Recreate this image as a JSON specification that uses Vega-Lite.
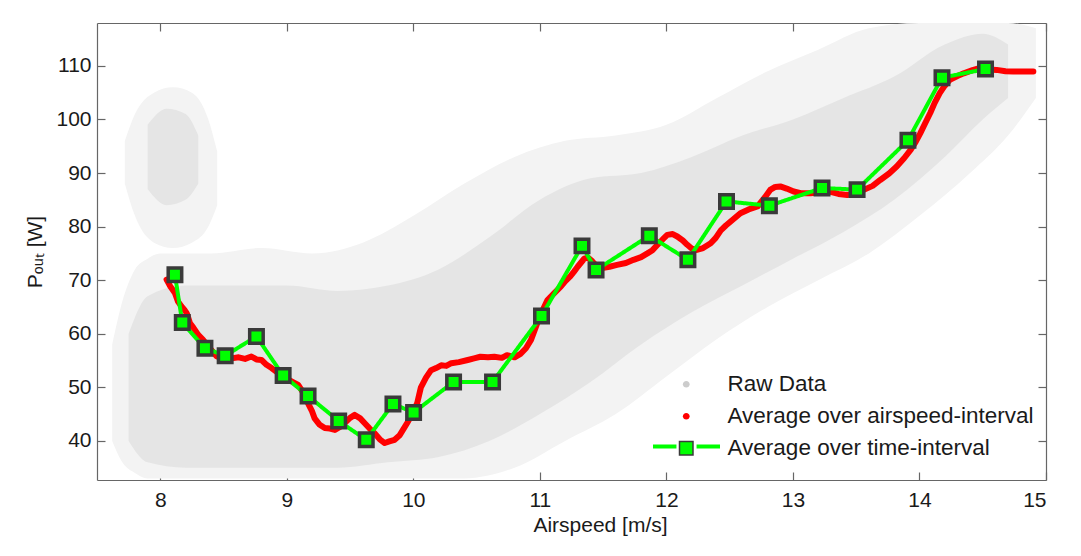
{
  "$schema": "https://vega.github.io/schema/vega-lite/v6.json",
  "width": 949,
  "height": 457,
  "autosize": {"type": "none"},
  "padding": {"left": 97, "top": 23, "right": 35, "bottom": 76},
  "background": "white",
  "config": {
    "view": {"stroke": null},
    "font": "Liberation Sans",
    "axis": {
      "grid": false,
      "domainColor": "#666666",
      "tickColor": "#666666",
      "domainWidth": 1.2,
      "tickWidth": 1.2,
      "labelColor": "#1a1a1a",
      "titleColor": "#1a1a1a",
      "labelFont": "Liberation Sans",
      "titleFont": "Liberation Sans",
      "labelFontSize": 21,
      "titleFontSize": 21,
      "titleFontWeight": "normal"
    }
  },
  "datasets": {
    "outer": [
      {"part": "main", "x": 7.62, "lo": 40, "hi": 58},
      {"part": "main", "x": 7.7, "lo": 36, "hi": 66},
      {"part": "main", "x": 7.8, "lo": 34, "hi": 72},
      {"part": "main", "x": 7.9, "lo": 33, "hi": 74},
      {"part": "main", "x": 8.0, "lo": 33, "hi": 75},
      {"part": "main", "x": 8.4, "lo": 33, "hi": 75},
      {"part": "main", "x": 8.8, "lo": 33, "hi": 76},
      {"part": "main", "x": 9.2, "lo": 33, "hi": 75},
      {"part": "main", "x": 9.6, "lo": 33, "hi": 77},
      {"part": "main", "x": 10.0, "lo": 33, "hi": 82},
      {"part": "main", "x": 10.4, "lo": 33, "hi": 88},
      {"part": "main", "x": 10.8, "lo": 35, "hi": 93},
      {"part": "main", "x": 11.2, "lo": 40, "hi": 96},
      {"part": "main", "x": 11.6, "lo": 45, "hi": 97},
      {"part": "main", "x": 12.0, "lo": 52, "hi": 99},
      {"part": "main", "x": 12.4, "lo": 59, "hi": 104},
      {"part": "main", "x": 12.8, "lo": 65, "hi": 109},
      {"part": "main", "x": 13.2, "lo": 70, "hi": 113},
      {"part": "main", "x": 13.6, "lo": 75, "hi": 117},
      {"part": "main", "x": 14.0, "lo": 82, "hi": 118},
      {"part": "main", "x": 14.4, "lo": 90, "hi": 118},
      {"part": "main", "x": 14.7, "lo": 97, "hi": 118},
      {"part": "main", "x": 14.92, "lo": 104, "hi": 117},
      {"part": "blob", "x": 7.72, "lo": 88, "hi": 96},
      {"part": "blob", "x": 7.8, "lo": 82, "hi": 101},
      {"part": "blob", "x": 7.95, "lo": 77, "hi": 105},
      {"part": "blob", "x": 8.1, "lo": 76, "hi": 106},
      {"part": "blob", "x": 8.25, "lo": 77, "hi": 105},
      {"part": "blob", "x": 8.38, "lo": 80, "hi": 100},
      {"part": "blob", "x": 8.45, "lo": 84, "hi": 94}
    ],
    "inner": [
      {"part": "main", "x": 7.75, "lo": 40, "hi": 60},
      {"part": "main", "x": 7.9, "lo": 36, "hi": 67},
      {"part": "main", "x": 8.2, "lo": 35, "hi": 69},
      {"part": "main", "x": 8.6, "lo": 35, "hi": 69},
      {"part": "main", "x": 9.0, "lo": 35, "hi": 69},
      {"part": "main", "x": 9.4, "lo": 35, "hi": 68},
      {"part": "main", "x": 9.8, "lo": 36, "hi": 69},
      {"part": "main", "x": 10.2, "lo": 37, "hi": 72},
      {"part": "main", "x": 10.6, "lo": 40, "hi": 78},
      {"part": "main", "x": 11.0, "lo": 45, "hi": 85},
      {"part": "main", "x": 11.4, "lo": 51, "hi": 89},
      {"part": "main", "x": 11.8, "lo": 58, "hi": 90},
      {"part": "main", "x": 12.2, "lo": 64, "hi": 93},
      {"part": "main", "x": 12.6, "lo": 69, "hi": 97},
      {"part": "main", "x": 13.0, "lo": 74, "hi": 100},
      {"part": "main", "x": 13.4, "lo": 79, "hi": 104},
      {"part": "main", "x": 13.8, "lo": 85, "hi": 108},
      {"part": "main", "x": 14.2, "lo": 93, "hi": 114},
      {"part": "main", "x": 14.5, "lo": 100, "hi": 116},
      {"part": "main", "x": 14.7, "lo": 104, "hi": 114},
      {"part": "blob", "x": 7.9, "lo": 87, "hi": 99},
      {"part": "blob", "x": 8.05, "lo": 84, "hi": 102},
      {"part": "blob", "x": 8.2, "lo": 85, "hi": 101},
      {"part": "blob", "x": 8.3, "lo": 88, "hi": 97}
    ],
    "airspeed": [
      {"x": 8.05, "p": 70.1}, {"x": 8.08, "p": 68.8}, {"x": 8.116, "p": 67.6}, {"x": 8.14, "p": 66.0},
      {"x": 8.168, "p": 65.1}, {"x": 8.19, "p": 64.5}, {"x": 8.21, "p": 63.8}, {"x": 8.234, "p": 62.0},
      {"x": 8.26, "p": 61.2}, {"x": 8.3, "p": 59.8}, {"x": 8.34, "p": 58.8}, {"x": 8.38, "p": 57.6},
      {"x": 8.41, "p": 56.8}, {"x": 8.444, "p": 55.8}, {"x": 8.5, "p": 55.3}, {"x": 8.563, "p": 55.4},
      {"x": 8.62, "p": 55.6}, {"x": 8.67, "p": 55.3}, {"x": 8.72, "p": 55.75}, {"x": 8.76, "p": 55.2},
      {"x": 8.8, "p": 55.1}, {"x": 8.84, "p": 54.2}, {"x": 8.88, "p": 53.6}, {"x": 8.93, "p": 52.7},
      {"x": 8.98, "p": 52.0}, {"x": 9.03, "p": 51.2}, {"x": 9.09, "p": 50.45}, {"x": 9.13, "p": 49.0},
      {"x": 9.168, "p": 47.0}, {"x": 9.2, "p": 45.5}, {"x": 9.22, "p": 44.2}, {"x": 9.26, "p": 43.0},
      {"x": 9.3, "p": 42.4}, {"x": 9.34, "p": 42.3}, {"x": 9.38, "p": 42.05}, {"x": 9.42, "p": 42.6},
      {"x": 9.455, "p": 43.3}, {"x": 9.5, "p": 44.3}, {"x": 9.537, "p": 44.85}, {"x": 9.58, "p": 44.2},
      {"x": 9.616, "p": 43.3}, {"x": 9.655, "p": 42.3}, {"x": 9.695, "p": 41.4}, {"x": 9.735, "p": 40.3},
      {"x": 9.774, "p": 39.6}, {"x": 9.81, "p": 39.9}, {"x": 9.852, "p": 40.2}, {"x": 9.89, "p": 41.0},
      {"x": 9.918, "p": 42.05}, {"x": 9.95, "p": 43.3}, {"x": 9.98, "p": 44.55}, {"x": 10.03, "p": 47.0},
      {"x": 10.06, "p": 50.0}, {"x": 10.1, "p": 51.8}, {"x": 10.14, "p": 53.2}, {"x": 10.18, "p": 53.6},
      {"x": 10.22, "p": 54.1}, {"x": 10.26, "p": 54.0}, {"x": 10.3, "p": 54.5}, {"x": 10.36, "p": 54.7},
      {"x": 10.43, "p": 55.1}, {"x": 10.48, "p": 55.4}, {"x": 10.53, "p": 55.7}, {"x": 10.59, "p": 55.6},
      {"x": 10.64, "p": 55.7}, {"x": 10.7, "p": 55.5}, {"x": 10.74, "p": 56.0}, {"x": 10.8, "p": 55.6},
      {"x": 10.85, "p": 56.3}, {"x": 10.89, "p": 57.3}, {"x": 10.93, "p": 58.85}, {"x": 10.98, "p": 62.0},
      {"x": 11.02, "p": 64.3}, {"x": 11.06, "p": 66.3}, {"x": 11.11, "p": 67.5}, {"x": 11.165, "p": 68.8},
      {"x": 11.2, "p": 69.8}, {"x": 11.24, "p": 70.7}, {"x": 11.27, "p": 71.6}, {"x": 11.3, "p": 72.55},
      {"x": 11.35, "p": 74.0}, {"x": 11.38, "p": 74.2}, {"x": 11.415, "p": 73.5}, {"x": 11.45, "p": 72.6},
      {"x": 11.48, "p": 72.2}, {"x": 11.55, "p": 72.5}, {"x": 11.61, "p": 72.85}, {"x": 11.68, "p": 73.2},
      {"x": 11.74, "p": 73.8}, {"x": 11.8, "p": 74.3}, {"x": 11.85, "p": 75.0}, {"x": 11.89, "p": 75.6},
      {"x": 11.93, "p": 76.6}, {"x": 11.97, "p": 77.6}, {"x": 12.007, "p": 78.45}, {"x": 12.05, "p": 78.6},
      {"x": 12.086, "p": 78.15}, {"x": 12.13, "p": 77.4}, {"x": 12.165, "p": 76.6}, {"x": 12.2, "p": 75.9},
      {"x": 12.24, "p": 75.65}, {"x": 12.29, "p": 76.0}, {"x": 12.35, "p": 76.9}, {"x": 12.39, "p": 77.9},
      {"x": 12.43, "p": 79.3}, {"x": 12.47, "p": 80.2}, {"x": 12.51, "p": 81.0}, {"x": 12.585, "p": 82.5},
      {"x": 12.65, "p": 83.2}, {"x": 12.72, "p": 83.75}, {"x": 12.77, "p": 85.2}, {"x": 12.82, "p": 86.85},
      {"x": 12.86, "p": 87.4}, {"x": 12.9, "p": 87.5}, {"x": 12.95, "p": 87.1}, {"x": 13.006, "p": 86.55},
      {"x": 13.07, "p": 86.2}, {"x": 13.14, "p": 86.2}, {"x": 13.21, "p": 86.4}, {"x": 13.29, "p": 86.55},
      {"x": 13.36, "p": 86.1}, {"x": 13.43, "p": 85.9}, {"x": 13.5, "p": 86.2}, {"x": 13.56, "p": 86.85},
      {"x": 13.63, "p": 87.6}, {"x": 13.69, "p": 88.7}, {"x": 13.76, "p": 89.9}, {"x": 13.82, "p": 91.2},
      {"x": 13.88, "p": 92.8}, {"x": 13.93, "p": 94.3}, {"x": 13.97, "p": 95.8}, {"x": 14.006, "p": 97.4},
      {"x": 14.045, "p": 99.3}, {"x": 14.085, "p": 101.2}, {"x": 14.12, "p": 103.1}, {"x": 14.16, "p": 104.9},
      {"x": 14.2, "p": 106.3}, {"x": 14.24, "p": 107.4}, {"x": 14.3, "p": 108.1}, {"x": 14.35, "p": 108.6},
      {"x": 14.42, "p": 109.2}, {"x": 14.48, "p": 109.6}, {"x": 14.55, "p": 109.3}, {"x": 14.61, "p": 109.25},
      {"x": 14.68, "p": 109.0}, {"x": 14.74, "p": 108.95}, {"x": 14.82, "p": 108.95}, {"x": 14.9, "p": 108.95}
    ],
    "time": [
      {"x": 8.116, "p": 71.0, "series": "Average over time-interval"},
      {"x": 8.174, "p": 62.1, "series": "Average over time-interval"},
      {"x": 8.353, "p": 57.3, "series": "Average over time-interval"},
      {"x": 8.513, "p": 55.9, "series": "Average over time-interval"},
      {"x": 8.76, "p": 59.5, "series": "Average over time-interval"},
      {"x": 8.971, "p": 52.2, "series": "Average over time-interval"},
      {"x": 9.168, "p": 48.4, "series": "Average over time-interval"},
      {"x": 9.41, "p": 43.7, "series": "Average over time-interval"},
      {"x": 9.628, "p": 40.2, "series": "Average over time-interval"},
      {"x": 9.839, "p": 46.9, "series": "Average over time-interval"},
      {"x": 10.002, "p": 45.3, "series": "Average over time-interval"},
      {"x": 10.318, "p": 51.0, "series": "Average over time-interval"},
      {"x": 10.626, "p": 51.0, "series": "Average over time-interval"},
      {"x": 11.013, "p": 63.3, "series": "Average over time-interval"},
      {"x": 11.333, "p": 76.4, "series": "Average over time-interval"},
      {"x": 11.444, "p": 71.9, "series": "Average over time-interval"},
      {"x": 11.865, "p": 78.3, "series": "Average over time-interval"},
      {"x": 12.17, "p": 73.8, "series": "Average over time-interval"},
      {"x": 12.475, "p": 84.7, "series": "Average over time-interval"},
      {"x": 12.814, "p": 83.9, "series": "Average over time-interval"},
      {"x": 13.23, "p": 87.2, "series": "Average over time-interval"},
      {"x": 13.507, "p": 86.9, "series": "Average over time-interval"},
      {"x": 13.909, "p": 96.1, "series": "Average over time-interval"},
      {"x": 14.178, "p": 107.8, "series": "Average over time-interval"},
      {"x": 14.522, "p": 109.4, "series": "Average over time-interval"}
    ]
  },
  "layer": [
    {
      "data": {"name": "outer"},
      "mark": {"type": "area", "color": "#f3f3f3", "interpolate": "monotone"},
      "encoding": {
        "x": {"field": "x", "type": "quantitative",
              "scale": {"domain": [7.5, 15], "nice": false, "zero": false},
              "axis": {"orient": "bottom", "values": [8, 9, 10, 11, 12, 13, 14, 15], "title": "Airspeed [m/s]",
                       "tickSize": -8, "labelPadding": 17, "titlePadding": 4, "titleX": 503}},
        "y": {"field": "lo", "type": "quantitative",
              "scale": {"domain": [32.7, 118], "nice": false, "zero": false},
              "axis": {"orient": "left", "values": [40, 50, 60, 70, 80, 90, 100, 110], "title": "Pₒᵤₜ [W]",
                       "tickSize": -8, "labelPadding": 14, "titlePadding": 10}},
        "y2": {"field": "hi"},
        "detail": {"field": "part"}
      }
    },
    {
      "data": {"name": "inner"},
      "mark": {"type": "area", "color": "#e5e5e5", "interpolate": "monotone"},
      "encoding": {
        "x": {"field": "x", "type": "quantitative", "axis": null},
        "y": {"field": "lo", "type": "quantitative", "axis": null},
        "y2": {"field": "hi"},
        "detail": {"field": "part"}
      }
    },
    {
      "data": {"name": "airspeed"},
      "mark": {"type": "line", "color": "#ff0000", "strokeWidth": 6, "strokeJoin": "round", "strokeCap": "round"},
      "encoding": {
        "x": {"field": "x", "type": "quantitative",
              "axis": {"orient": "top", "values": [8, 9, 10, 11, 12, 13, 14, 15], "labels": false, "title": null, "tickSize": -8}},
        "y": {"field": "p", "type": "quantitative",
              "axis": {"orient": "right", "values": [40, 50, 60, 70, 80, 90, 100, 110], "labels": false, "title": null, "tickSize": -8}}
      }
    },
    {
      "data": {"name": "time"},
      "mark": {"type": "line", "color": "#00ff00", "strokeWidth": 4},
      "encoding": {
        "x": {"field": "x", "type": "quantitative", "axis": null},
        "y": {"field": "p", "type": "quantitative", "axis": null},
        "strokeDash": {"field": "series", "type": "nominal",
                       "scale": {"domain": ["Average over time-interval"], "range": [[1, 0]]},
                       "legend": {"orient": "none", "legendX": 554, "legendY": 388, "title": null, "padding": 0,
                                  "symbolType": "M-1,0H-0.3M0.3,0H1", "symbolSize": 4489,
                                  "symbolStrokeColor": "#00ff00", "symbolFillColor": "transparent",
                                  "symbolStrokeWidth": 4, "labelOpacity": 0, "labelFontSize": 21,
                                  "labelExpr": "''"}}
      }
    },
    {
      "data": {"name": "time"},
      "mark": {"type": "point", "filled": true, "size": 182, "strokeWidth": 3.5, "opacity": 1},
      "encoding": {
        "x": {"field": "x", "type": "quantitative", "axis": null},
        "y": {"field": "p", "type": "quantitative", "axis": null},
        "color": {"field": "series", "type": "nominal",
                  "scale": {"domain": ["Raw Data", "Average over airspeed-interval", "Average over time-interval"],
                            "range": ["#cccccc", "#ff0000", "#00ff00"]},
                  "legend": {"orient": "none", "legendX": 578, "legendY": 350, "title": null, "padding": 0,
                             "labelFontSize": 22.5, "labelFont": "Liberation Sans", "labelColor": "#1a1a1a",
                             "labelLimit": 400, "rowPadding": 9, "labelOffset": 30, "symbolSize": 182}},
        "shape": {"field": "series", "type": "nominal",
                  "scale": {"domain": ["Raw Data", "Average over airspeed-interval", "Average over time-interval"],
                            "range": ["M0.5,0A0.5,0.5,0,1,1,-0.5,0A0.5,0.5,0,1,1,0.5,0Z", "M0.5,0A0.5,0.5,0,1,1,-0.5,0A0.5,0.5,0,1,1,0.5,0Z", "square"]},
                  "legend": {"orient": "none", "legendX": 578, "legendY": 350, "title": null, "padding": 0,
                             "labelFontSize": 22.5, "labelFont": "Liberation Sans", "labelColor": "#1a1a1a",
                             "labelLimit": 400, "rowPadding": 9, "labelOffset": 30, "symbolSize": 182}},
        "stroke": {"field": "series", "type": "nominal",
                   "scale": {"domain": ["Raw Data", "Average over airspeed-interval", "Average over time-interval"],
                             "range": ["transparent", "transparent", "#3a3a3a"]},
                   "legend": {"orient": "none", "legendX": 578, "legendY": 350, "title": null, "padding": 0,
                              "labelFontSize": 22.5, "labelFont": "Liberation Sans", "labelColor": "#1a1a1a",
                              "labelLimit": 400, "rowPadding": 9, "labelOffset": 30, "symbolSize": 182}}
      }
    }
  ]
}
